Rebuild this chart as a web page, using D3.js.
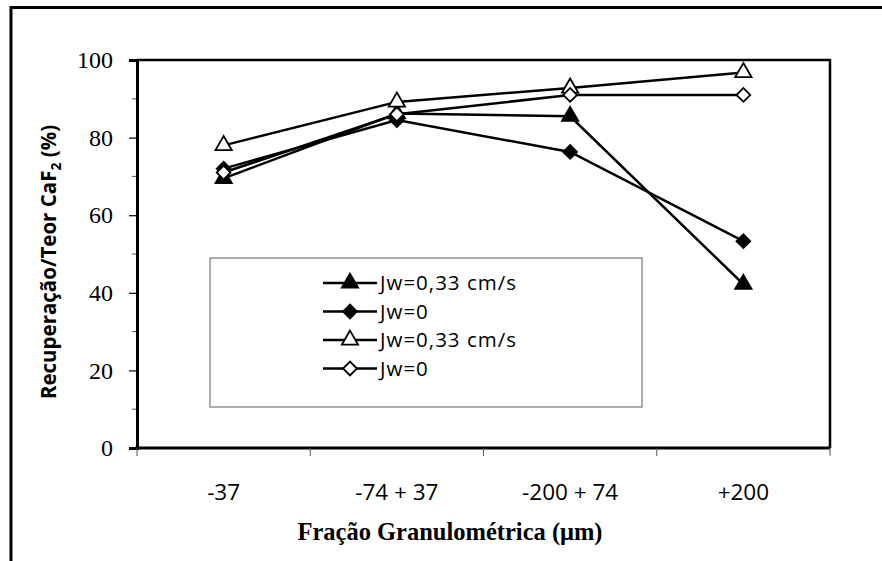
<!DOCTYPE html>
<html>
<head>
<meta charset="utf-8">
<script src="https://cdn.jsdelivr.net/npm/d3@7"></script>
<style>
  body { margin: 0; background: #fff; }
  svg { display: block; }
  .serif { font-family: "Times New Roman", "Liberation Serif", Times, "DejaVu Serif", serif; }
  .sans { font-family: "Open Sans", "Noto Sans", sans-serif; }
</style>
</head>
<body>
<div id="chart"></div>
<script>
var width = 882;
var height = 561;

// data
var fractions = ["-37", "-74 + 37", "-200 + 74", "+200"];
var yTicks = [0, 20, 40, 60, 80, 100];
var triFilled = [69.5, 86.2, 85.5, 42.2];
var diaFilled = [72.0, 84.5, 76.3, 53.3];
var triOpen = [78.0, 89.2, 92.8, 96.8];
var diaOpen = [71.0, 86.0, 91.0, 91.0];
var legendLabels = ["Jw=0,33 cm/s", "Jw=0", "Jw=0,33 cm/s", "Jw=0"];

var series = [
    {values: triFilled, shape: d3.symbolTriangle, fill: "#000", label: legendLabels[0]},
    {values: diaFilled, shape: "diamond", fill: "#000", label: legendLabels[1]},
    {values: triOpen, shape: d3.symbolTriangle, fill: "#fff", label: legendLabels[2]},
    {values: diaOpen, shape: "diamond", fill: "#fff", label: legendLabels[3]}
];

var margin = {left: 137, top: 60, right: 52, bottom: 113};
var plotW = width - margin.left - margin.right;
var plotH = height - margin.top - margin.bottom;

var svg = d3.select("#chart")
    .append("svg")
    .attr("width", width)
    .attr("height", height);

// outer frame (runs off the right and bottom edge)
svg.append("path")
    .attr("d", "M11," + (height + 5) + "V7.5H" + (width + 5))
    .attr("fill", "none")
    .attr("stroke", "#000")
    .attr("stroke-width", 3);

var x = d3.scaleBand().domain(fractions).range([0, plotW]);
var y = d3.scaleLinear().domain([0, 100]).range([plotH, 0]);

var g = svg.append("g")
    .attr("transform", "translate(" + margin.left + "," + margin.top + ")");

// top and right borders of the plot area
g.append("path")
    .attr("d", "M0,0H" + plotW + "V" + plotH)
    .attr("fill", "none")
    .attr("stroke", "#000")
    .attr("stroke-width", 2.5);

// minor ticks on y
g.selectAll(".minor")
    .data(d3.range(10, 100, 20))
    .enter().append("line")
    .attr("x1", -5).attr("x2", 0)
    .attr("y1", d => y(d)).attr("y2", d => y(d))
    .attr("stroke", "#555")
    .attr("stroke-width", 1);

// y axis
var yAxis = g.append("g")
    .call(d3.axisLeft(y).tickValues(yTicks).tickSize(8).tickPadding(16))
    .attr("font-family", null)
    .attr("font-size", null);
yAxis.select(".domain").attr("stroke-width", 3);
yAxis.selectAll(".tick line").attr("stroke-width", 1.2);
yAxis.selectAll(".tick text")
    .attr("class", "serif")
    .style("font-size", "24px")
    .attr("fill", "#000");

// x axis: ticks on band edges, labels at band centres
var xAxis = g.append("g")
    .attr("transform", "translate(0," + plotH + ")");
xAxis.append("line")
    .attr("x1", -1.5).attr("x2", plotW)
    .attr("stroke", "#000")
    .attr("stroke-width", 3);
xAxis.selectAll(".xt")
    .data(fractions.map(d => x(d)).concat([plotW]))
    .enter().append("line")
    .attr("x1", d => d).attr("x2", d => d)
    .attr("y1", 0).attr("y2", 8)
    .attr("stroke", "#555")
    .attr("stroke-width", 1);
xAxis.selectAll(".xl")
    .data(fractions)
    .enter().append("text")
    .attr("class", "sans")
    .attr("x", d => x(d) + x.bandwidth() / 2)
    .attr("y", 52)
    .attr("text-anchor", "middle")
    .style("font-size", "22.5px")
    .text(d => d);

// axis titles
svg.append("text")
    .attr("class", "serif")
    .attr("x", 450)
    .attr("y", 540)
    .attr("text-anchor", "middle")
    .style("font-weight", "bold")
    .style("font-size", "24.5px")
    .text("Fração Granulométrica (μm)");

var yTitle = svg.append("text")
    .attr("class", "sans")
    .attr("transform", "translate(56,262) rotate(-90)")
    .attr("text-anchor", "middle")
    .style("font-weight", "bold")
    .style("font-size", "20.5px");
yTitle.append("tspan").text("Recuperação/Teor CaF");
yTitle.append("tspan").style("font-size", "14px").attr("dy", 5).text("2");
yTitle.append("tspan").attr("dy", -5).text(" (%)");

function marker(shape) {
    if (shape === "diamond") {
        return d3.symbol().type(d3.symbolSquare).size(95)();
    }
    return d3.symbol().type(shape).size(115)();
}
function markerRot(shape) {
    return shape === "diamond" ? " rotate(45)" : "";
}

var line = d3.line()
    .x((d, i) => x(fractions[i]) + x.bandwidth() / 2)
    .y(d => y(d));

var sg = g.selectAll(".series")
    .data(series)
    .enter().append("g");

sg.append("path")
    .attr("d", d => line(d.values))
    .attr("fill", "none")
    .attr("stroke", "#000")
    .attr("stroke-width", 2.5);

sg.each(function (s) {
    d3.select(this).selectAll(".pt")
        .data(s.values)
        .enter().append("path")
        .attr("d", marker(s.shape))
        .attr("transform", (d, i) => "translate(" + (x(fractions[i]) + x.bandwidth() / 2) + "," + y(d) + ")" + markerRot(s.shape))
        .attr("fill", s.fill)
        .attr("stroke", "#000")
        .attr("stroke-width", 1.8);
});

// legend
var legend = svg.append("g").attr("transform", "translate(210,258)");
legend.append("rect")
    .attr("width", 432)
    .attr("height", 149)
    .attr("fill", "#fff")
    .attr("stroke", "#777")
    .attr("stroke-width", 1.2);

var items = legend.selectAll(".item")
    .data(series)
    .enter().append("g")
    .attr("transform", (d, i) => "translate(0," + (25 + i * 28.5) + ")");
items.append("line")
    .attr("x1", 113).attr("x2", 167)
    .attr("stroke", "#000")
    .attr("stroke-width", 2.5);
items.append("path")
    .attr("d", d => marker(d.shape))
    .attr("transform", d => "translate(140,0)" + markerRot(d.shape))
    .attr("fill", d => d.fill)
    .attr("stroke", "#000")
    .attr("stroke-width", 1.8);
items.append("text")
    .attr("class", "sans")
    .attr("x", 170)
    .attr("y", 7)
    .style("font-size", "20.5px")
    .style("letter-spacing", "1px")
    .text(d => d.label);
</script>
</body>
</html>
